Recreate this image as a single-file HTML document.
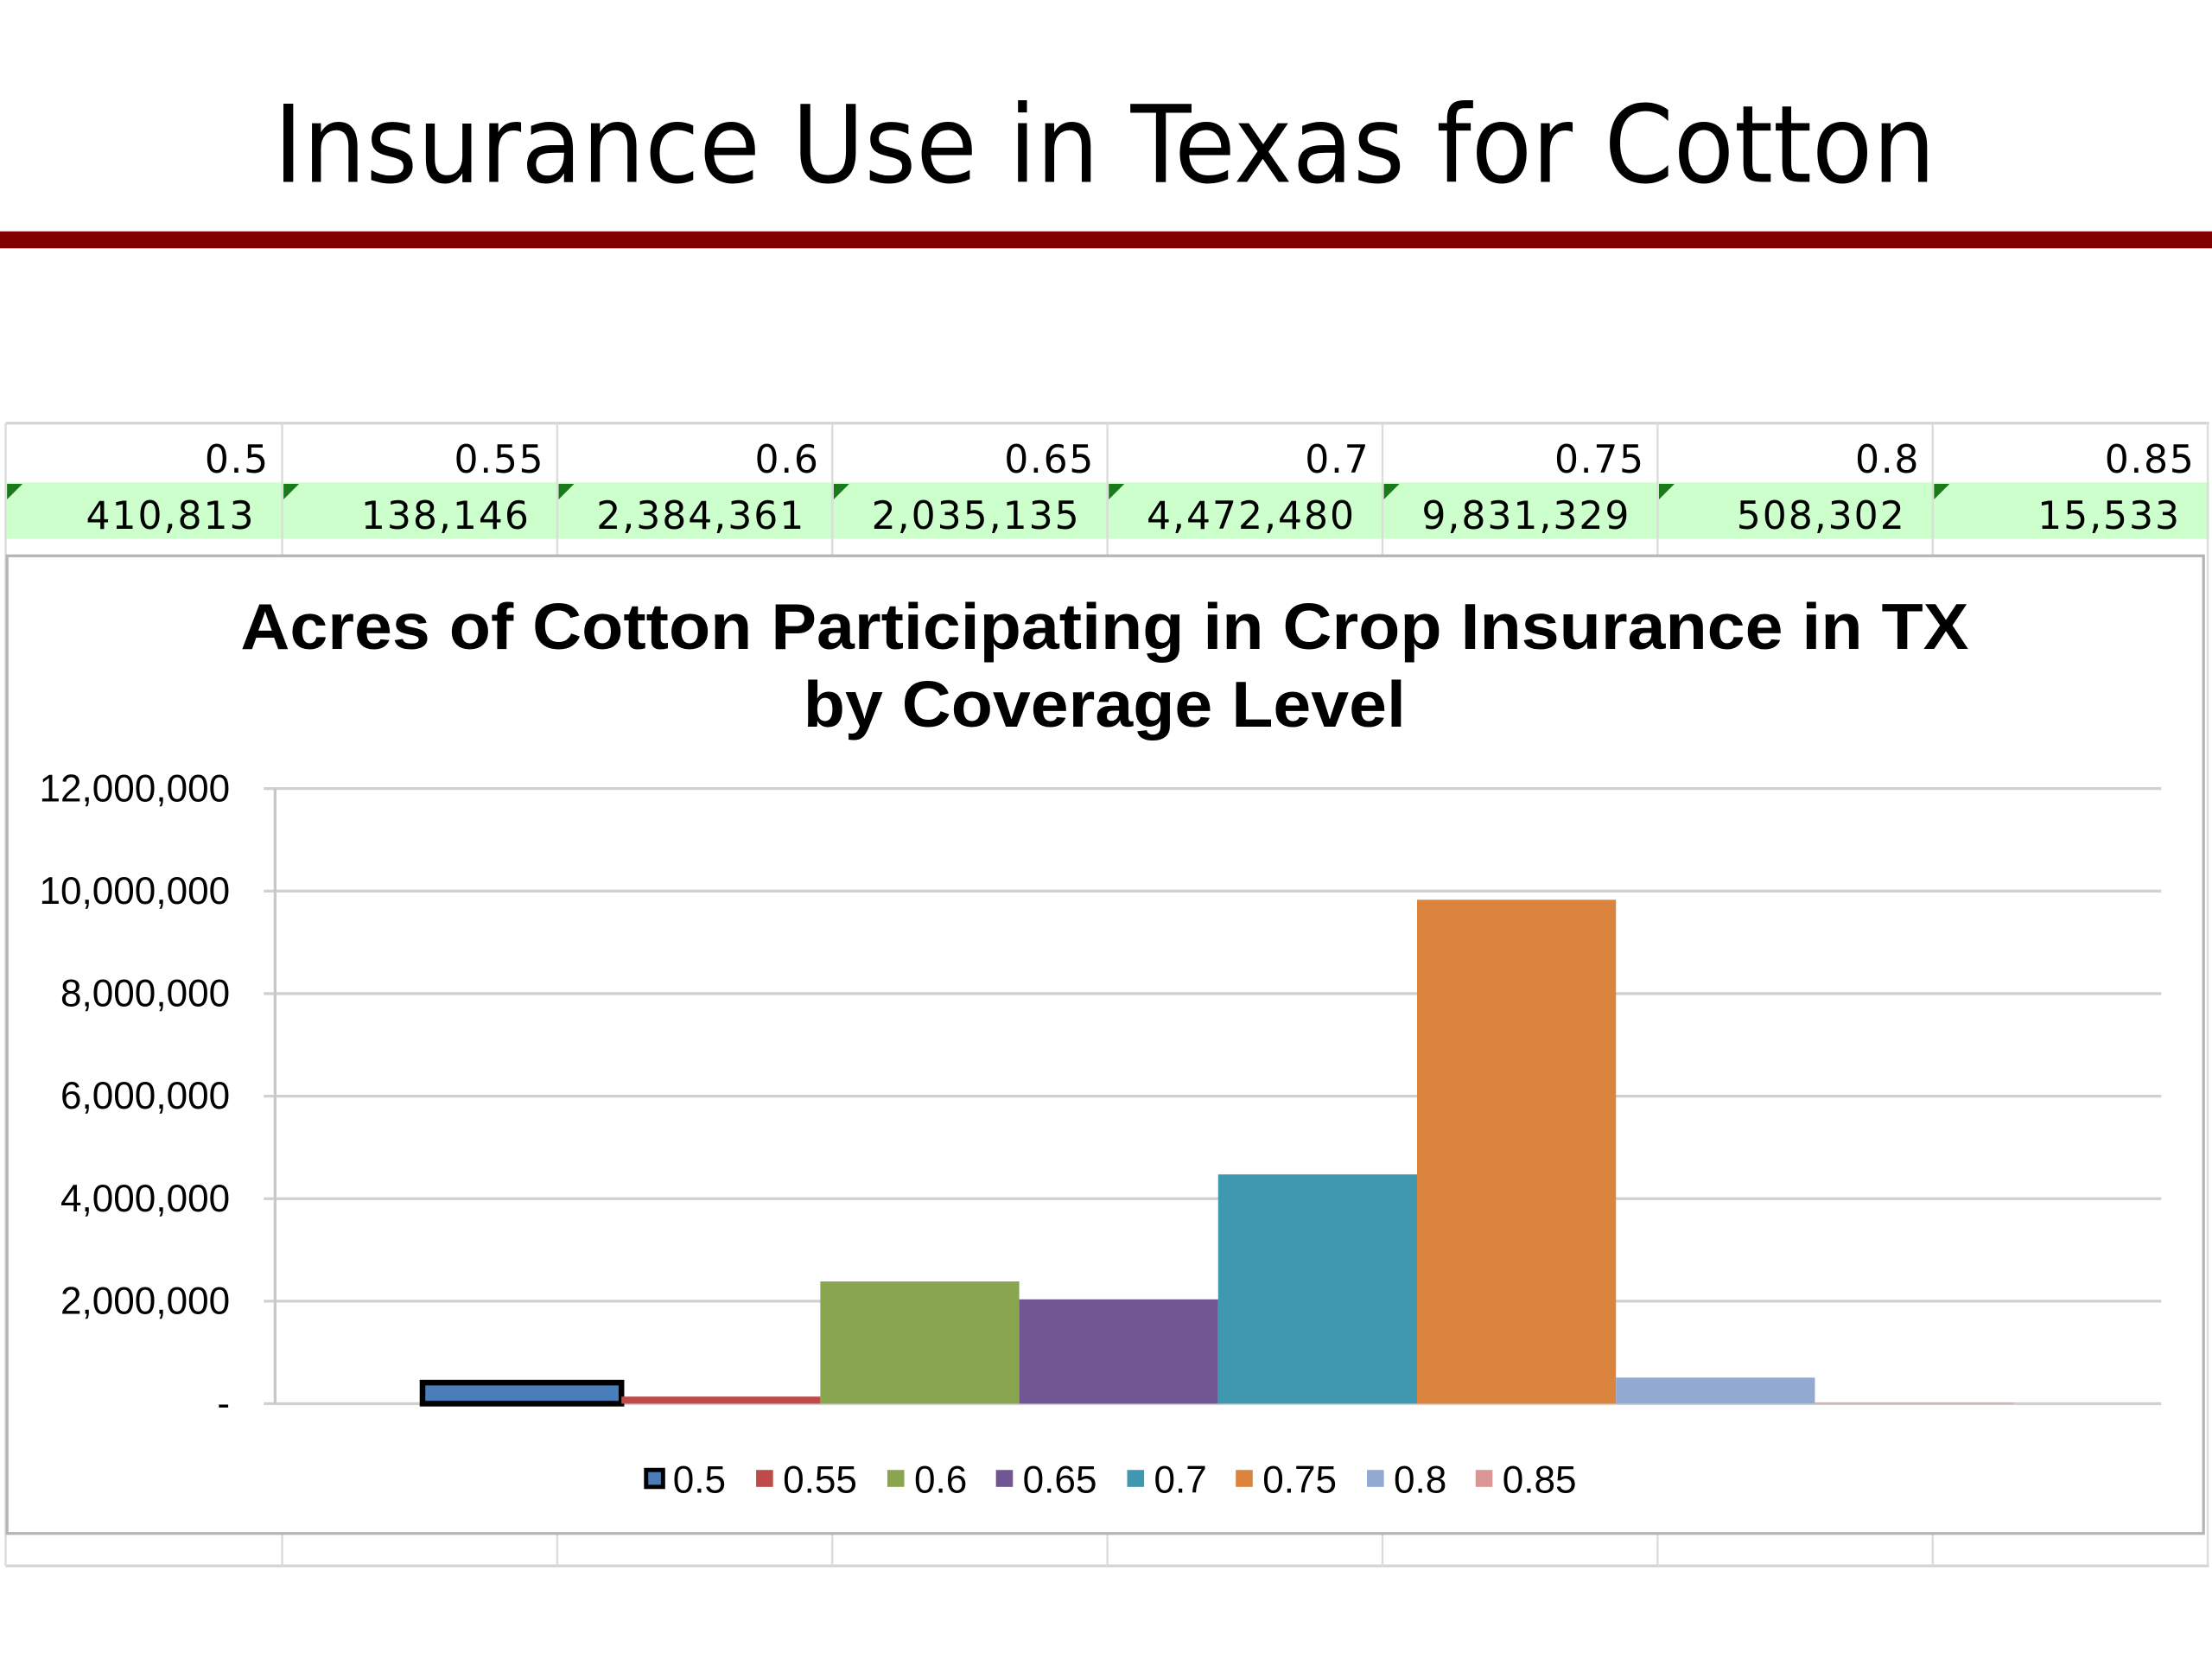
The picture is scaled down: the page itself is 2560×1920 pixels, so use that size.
<!DOCTYPE html>
<html><head><meta charset="utf-8"><style>
html,body{margin:0;padding:0;background:#fff;}
svg{display:block;}
</style></head><body>
<svg id="slide" width="2560" height="1920" viewBox="0 0 1568 1176" xmlns="http://www.w3.org/2000/svg">
<rect width="1568" height="1176" fill="#fff"/>
<text x="783" y="129" text-anchor="middle" font-family="DejaVu Sans, sans-serif" font-size="76" textLength="1178" lengthAdjust="spacingAndGlyphs">Insurance Use in Texas for Cotton</text>
<rect x="0" y="164" width="1568" height="12" fill="#800000"/>
<g id="table"></g>
<rect x="5" y="394" width="1557" height="693" fill="#fff" stroke="#b5b5b5" stroke-width="2"/>
<text x="783" y="460" text-anchor="middle" font-family="Liberation Sans, sans-serif" font-weight="bold" font-size="46" textLength="1225" lengthAdjust="spacingAndGlyphs">Acres of Cotton Participating in Crop Insurance in TX</text>
<text x="783" y="515" text-anchor="middle" font-family="Liberation Sans, sans-serif" font-weight="bold" font-size="46" textLength="427" lengthAdjust="spacingAndGlyphs">by Coverage Level</text>
<g id="plot"></g>
<g id="legend"></g>
</svg>
<script>
const categories = ["0.5","0.55","0.6","0.65","0.7","0.75","0.8","0.85"];
const acres = [410813,138146,2384361,2035135,4472480,9831329,508302,15533];
const acreLabels = ["410,813","138,146","2,384,361","2,035,135","4,472,480","9,831,329","508,302","15,533"];
const yTicks = [0,2000000,4000000,6000000,8000000,10000000,12000000];
const yTickLabels = ["-","2,000,000","4,000,000","6,000,000","8,000,000","10,000,000","12,000,000"];
const colors = ["#4a7ebb","#be4b48","#8aa54f","#715693","#3f97b0","#db843d","#92a9d2","#d99694"];
const NS="http://www.w3.org/2000/svg";
function mk(tag,attrs,parent){const e=document.createElementNS(NS,tag);for(const k in attrs)e.setAttribute(k,attrs[k]);parent.appendChild(e);return e;}
const plotLeft=195, plotRight=1532, y0=995, yTop=559, yMax=12000000;
function yScale(v){return y0-(v/yMax)*(y0-yTop);}
const barW=141, groupStart=plotLeft+(plotRight-plotLeft-barW*categories.length)/2;
function xScale(i){return groupStart+i*barW;}

// table
const table=document.getElementById('table');
const colX=[4,200,395,590,785,980,1175,1370,1565];
mk('rect',{x:4,y:342,width:1562,height:40,fill:'#ccffcc'},table);
mk('line',{x1:4,y1:300,x2:1566,y2:300,stroke:'#d4d4d4','stroke-width':2},table);
mk('line',{x1:4,y1:1110,x2:1566,y2:1110,stroke:'#d4d4d4','stroke-width':2},table);
colX.forEach((x,i)=>{const l=mk('line',{x1:x,y1:300,x2:x,y2:1110,stroke:'#dcdcdc','stroke-width':1.5},table);

});
categories.forEach((c,i)=>{
  const h=mk('text',{x:colX[i+1]-9,y:335,'text-anchor':'end','font-family':'DejaVu Sans, sans-serif','font-size':27,'letter-spacing':1},table);
  h.textContent=c;
  
  
  const v=mk('text',{x:colX[i+1]-19,y:375,'text-anchor':'end','font-family':'DejaVu Sans, sans-serif','font-size':27,'letter-spacing':1.2},table);
  v.textContent=acreLabels[i];
  
  
  const t=mk('polygon',{points:`${colX[i]+1},343 ${colX[i]+12},343 ${colX[i]+1},354`,fill:'#1a7a1a'},table);
  
  
});

// plot
const plot=document.getElementById('plot');
yTicks.forEach((v,i)=>{
  const y=yScale(v);
  const g=mk('line',{x1:187,y1:y,x2:plotRight,y2:y,stroke:'#d0d0d0','stroke-width':2},plot);
  
  
  const t=mk('text',{x:163,y:y+9,'text-anchor':'end','font-family':'Liberation Sans, sans-serif','font-size':27},plot);
  t.textContent=yTickLabels[i];
  
  
});
const ax=mk('line',{x1:plotLeft,y1:yTop,x2:plotLeft,y2:y0,stroke:'#c8c8c8','stroke-width':2},plot);


acres.forEach((v,i)=>{
  const y=yScale(v);
  const attrs={x:xScale(i),y:y,width:barW,height:y0-y,fill:colors[i]};
  if(i===0){attrs.stroke='#000';attrs['stroke-width']=4;}
  const b=mk('rect',attrs,plot);
  
  
});

// legend
const legend=document.getElementById('legend');
const legX=[458,536,629,706,799,876,969,1046];
categories.forEach((c,i)=>{
  const sa={x:legX[i],y:1042,width:12,height:12,fill:colors[i]};
  if(i===0){sa.stroke='#000';sa['stroke-width']=3;}
  const s=mk('rect',sa,legend);
  
  
  const t=mk('text',{x:legX[i]+19,y:1058,'font-family':'Liberation Sans, sans-serif','font-size':27},legend);
  t.textContent=c;
  
  
});
</script>
</body></html>
